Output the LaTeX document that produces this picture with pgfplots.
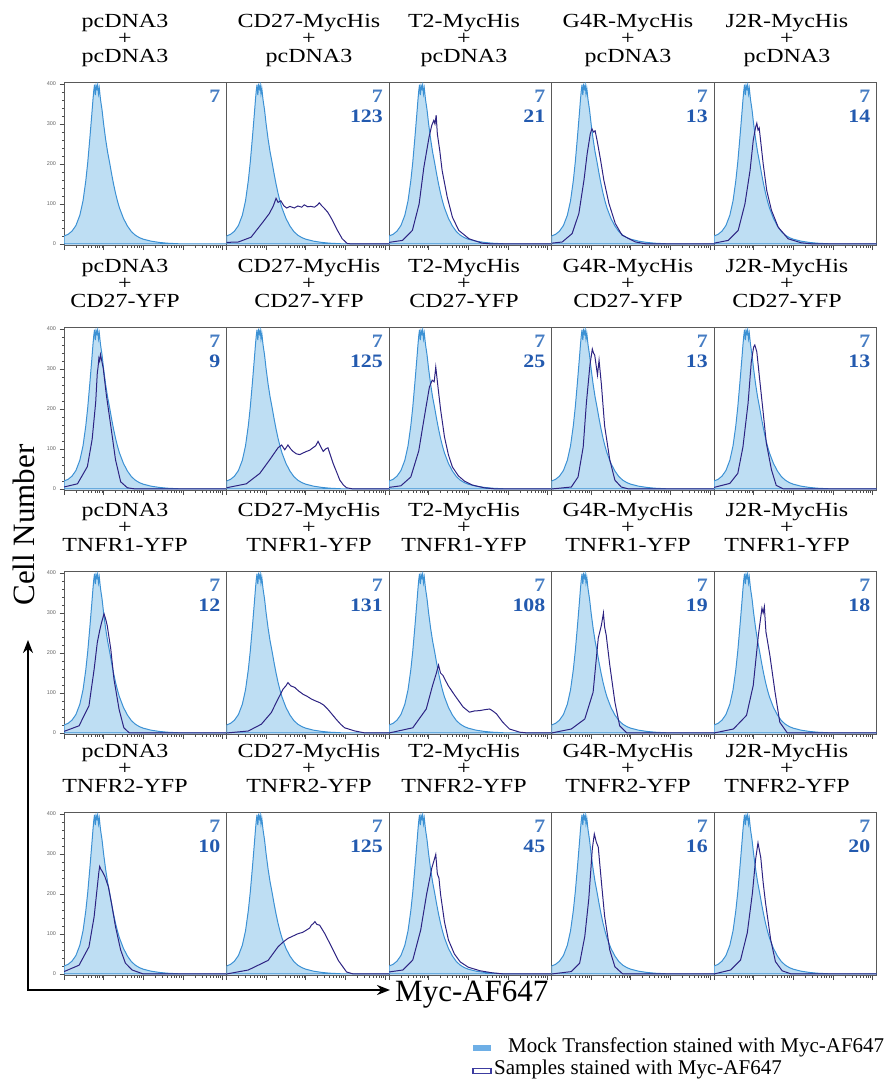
\documentclass[border=0pt]{standalone}
\usepackage{pgfplots}
\pgfplotsset{compat=1.18}
\usepackage{pgfplotstable}
\usepackage{fontspec}
\setmainfont{Liberation Serif}
\newfontfamily\titlefont[FakeStretch=1.2]{Liberation Serif}
\newfontfamily\mfifont[FakeStretch=1.15]{Liberation Serif}
\newfontfamily\tickfont{Liberation Sans}
\usetikzlibrary{arrows.meta}

\definecolor{mockfill}{RGB}{190,222,243}
\definecolor{mockline}{RGB}{60,145,212}
\definecolor{sampleline}{RGB}{45,35,130}
\definecolor{mfiA}{RGB}{70,125,195}
\definecolor{mfiB}{RGB}{35,90,175}
\definecolor{legA}{RGB}{110,175,230}
\definecolor{legB}{RGB}{60,60,160}

% mock control (same in every panel); x = log10 fluorescence
\pgfplotstableread{
x y
0.00 20
0.10 24
0.20 32
0.30 46
0.40 72
0.48 108
0.55 158
0.60 205
0.65 262
0.70 322
0.73 360
0.75 382
0.77 398
0.79 372
0.81 396
0.83 388
0.85 398
0.87 376
0.89 390
0.92 362
0.96 335
1.00 300
1.05 262
1.10 230
1.15 204
1.20 176
1.25 150
1.30 127
1.35 107
1.40 90
1.50 64
1.60 45
1.70 31
1.80 22
1.90 16
2.00 12
2.20 7
2.40 4
2.60 2
2.80 1
3.00 0
4.10 0
}\mock

\pgfplotstableread{
x y
0.00 4
0.30 5
0.62 17
0.92 55
1.08 76
1.18 95
1.25 114
1.30 104
1.37 108
1.45 95
1.52 90
1.60 94
1.71 90
1.80 95
1.90 92
1.96 98
2.05 93
2.13 94
2.22 92
2.30 98
2.34 103
2.40 96
2.46 90
2.55 80
2.63 67
2.72 50
2.80 34
2.92 13
3.05 1
3.20 0
4.10 0
}\sAB
\pgfplotstableread{
x y
0.00 4
0.34 9
0.59 34
0.76 100
0.88 192
1.01 267
1.08 297
1.13 309
1.16 300
1.19 322
1.22 275
1.28 234
1.34 184
1.47 117
1.60 67
1.76 34
2.02 13
2.35 2
2.60 0
4.10 0
}\sAC
\pgfplotstableread{
x y
0.00 2
0.27 5
0.52 26
0.69 76
0.82 160
0.90 226
0.98 276
1.02 288
1.06 280
1.10 283
1.15 259
1.24 209
1.32 160
1.45 101
1.61 51
1.78 22
2.12 5
2.40 0
4.10 0
}\sAD
\pgfplotstableread{
x y
0.00 2
0.36 9
0.61 34
0.78 100
0.91 184
0.99 259
1.05 292
1.08 302
1.11 285
1.14 290
1.18 255
1.24 201
1.33 134
1.45 84
1.62 42
1.87 13
2.20 3
2.50 0
4.10 0
}\sAE

\pgfplotstableread{
x y
0.00 5
0.34 13
0.59 56
0.71 124
0.80 217
0.84 290
0.86 305
0.88 327
0.90 320
0.92 336
0.99 302
1.07 234
1.18 158
1.30 73
1.43 18
1.60 3
1.80 0
4.10 0
}\sBA
\pgfplotstableread{
x y
0.00 3
0.50 13
0.84 39
1.09 73
1.30 103
1.39 110
1.47 98
1.55 110
1.62 100
1.68 94
1.76 88
1.85 86
1.93 90
2.02 94
2.10 97
2.18 103
2.25 108
2.31 119
2.38 105
2.44 94
2.50 100
2.56 103
2.62 85
2.69 64
2.78 42
2.86 22
2.95 10
3.03 3
3.20 0
4.10 0
}\sBB
\pgfplotstableread{
x y
0.00 4
0.30 8
0.55 30
0.75 95
0.90 185
1.02 255
1.09 272
1.14 268
1.18 305
1.23 260
1.30 200
1.40 130
1.50 85
1.60 55
1.75 33
1.90 20
2.10 10
2.40 3
2.70 0
4.10 0
}\sBC
\pgfplotstableread{
x y
0.00 0
0.50 5
0.67 30
0.80 105
0.88 215
0.97 310
1.03 350
1.06 340
1.09 335
1.16 285
1.20 322
1.26 260
1.34 158
1.47 73
1.60 22
1.76 5
1.95 0
4.10 0
}\sBD
\pgfplotstableread{
x y
0.00 4
0.40 14
0.60 39
0.73 105
0.86 215
0.94 317
1.00 355
1.03 360
1.08 343
1.15 276
1.24 192
1.32 115
1.45 48
1.57 9
1.75 0
4.10 0
}\sBE

\pgfplotstableread{
x y
0.00 4
0.38 18
0.63 68
0.76 159
0.84 226
0.90 256
0.95 277
1.01 298
1.05 285
1.09 269
1.18 210
1.26 135
1.39 59
1.51 13
1.65 0
4.10 0
}\sCA
\pgfplotstableread{
x y
0.00 0
0.55 5
0.88 22
1.13 51
1.30 85
1.43 110
1.50 118
1.55 126
1.62 118
1.72 114
1.82 105
1.93 97
2.03 92
2.14 85
2.25 80
2.35 76
2.45 70
2.56 59
2.67 46
2.77 34
2.88 22
2.98 13
3.24 5
3.50 0
4.10 0
}\sCB
\pgfplotstableread{
x y
0.00 0
0.60 13
0.94 60
1.10 119
1.19 148
1.25 170
1.30 150
1.36 144
1.49 119
1.66 94
1.87 65
2.03 52
2.15 55
2.29 56
2.40 58
2.54 60
2.62 55
2.71 48
2.87 27
3.04 10
3.30 2
3.50 0
4.10 0
}\sCC
\pgfplotstableread{
x y
0.00 0
0.50 10
0.84 35
1.05 102
1.18 237
1.26 270
1.31 300
1.34 265
1.38 245
1.47 170
1.60 77
1.72 18
1.90 0
4.10 0
}\sCD
\pgfplotstableread{
x y
0.00 0
0.49 10
0.82 44
0.99 119
1.12 245
1.18 290
1.21 312
1.24 300
1.27 316
1.31 253
1.41 194
1.54 102
1.66 27
1.85 0
4.10 0
}\sCE

\pgfplotstableread{
x y
0.00 6
0.38 22
0.63 68
0.76 143
0.84 218
0.88 255
0.90 269
0.93 262
0.97 256
1.03 244
1.12 218
1.20 176
1.30 118
1.43 60
1.55 27
1.72 10
2.00 0
4.10 0
}\sDA
\pgfplotstableread{
x y
0.00 0
0.55 10
1.05 34
1.30 68
1.43 80
1.55 89
1.68 95
1.81 101
1.92 104
2.02 110
2.10 115
2.14 122
2.19 126
2.23 131
2.28 124
2.35 122
2.48 101
2.65 68
2.82 34
3.03 5
3.20 0
4.10 0
}\sDB
\pgfplotstableread{
x y
0.00 5
0.35 10
0.60 35
0.80 110
0.95 200
1.08 265
1.14 285
1.18 299
1.22 250
1.26 240
1.30 200
1.40 130
1.50 85
1.65 50
1.80 30
2.00 17
2.30 8
2.60 3
2.90 0
4.10 0
}\sDC
\pgfplotstableread{
x y
0.00 0
0.50 6
0.71 27
0.84 94
0.94 187
1.03 313
1.08 350
1.13 330
1.18 317
1.26 229
1.34 145
1.47 60
1.60 18
1.80 0
4.10 0
}\sDD
\pgfplotstableread{
x y
0.00 0
0.42 10
0.67 35
0.84 103
0.97 203
1.05 287
1.11 328
1.18 291
1.24 229
1.30 178
1.43 86
1.55 31
1.72 8
1.95 0
4.10 0
}\sDE

\pgfplotsset{
  panel/.style={
    scale only axis, width=162.5pt, height=163.2pt, anchor=south west,
    xmin=0, xmax=4.1, ymin=-4, ymax=404,
    axis line style={black!65, line width=0.8pt},
    xtick={0,1,2,3,4}, xticklabels={},
    minor xtick={0.301,0.477,0.602,0.699,0.778,0.845,0.903,0.954,
                 1.301,1.477,1.602,1.699,1.778,1.845,1.903,1.954,
                 2.301,2.477,2.602,2.699,2.778,2.845,2.903,2.954,
                 3.301,3.477,3.602,3.699,3.778,3.845,3.903,3.954},
    ytick=\empty,
    tick pos=left, tick align=outside,
    major tick length=4.5pt, minor tick length=2.2pt,
    every tick/.style={black!70, line width=0.6pt},
    no markers,
  },
  firstcol/.style={
    ytick={0,100,200,300,400}, minor y tick num=4,
    yticklabel style={font=\tickfont\fontsize{5.5}{5.5}\selectfont, text=black!60},
    /pgf/number format/assume math mode=true,
  },
}

\newcommand{\panel}[4]{%
  \begin{axis}[panel, at={(#1pt,#2pt)}, #4]
    \addplot[draw=mockline, line width=1.0pt, fill=mockfill] table {\mock} \closedcycle;
    \addplot[draw=sampleline, line width=1.0pt] table {#3};
  \end{axis}}

\begin{document}
\begin{tikzpicture}
\useasboundingbox (0pt,0pt) rectangle (889pt,1085pt);

% row 1
\begin{axis}[panel, at={(64pt,839.4pt)}, firstcol]
  \addplot[draw=mockline, line width=1.0pt, fill=mockfill] table {\mock} \closedcycle;
\end{axis}
\panel{226.5}{839.4}{\sAB}{}
\panel{389}{839.4}{\sAC}{}
\panel{551.5}{839.4}{\sAD}{}
\panel{714}{839.4}{\sAE}{}
% row 2
\panel{64}{594.4}{\sBA}{firstcol}
\panel{226.5}{594.4}{\sBB}{}
\panel{389}{594.4}{\sBC}{}
\panel{551.5}{594.4}{\sBD}{}
\panel{714}{594.4}{\sBE}{}
% row 3
\panel{64}{350.4}{\sCA}{firstcol}
\panel{226.5}{350.4}{\sCB}{}
\panel{389}{350.4}{\sCC}{}
\panel{551.5}{350.4}{\sCD}{}
\panel{714}{350.4}{\sCE}{}
% row 4
\panel{64}{109.4}{\sDA}{firstcol}
\panel{226.5}{109.4}{\sDB}{}
\panel{389}{109.4}{\sDC}{}
\panel{551.5}{109.4}{\sDD}{}
\panel{714}{109.4}{\sDE}{}

\begin{scope}[x=1pt,y=1pt]
% titles
\tikzset{ttl/.style={inner sep=0pt, font=\titlefont\fontsize{20}{20}\selectfont}}
\foreach \ty/\second in {1002.6/pcDNA3, 757.6/CD27-YFP, 513.6/TNFR1-YFP, 272.6/TNFR2-YFP}{
  \foreach \cx/\first in {125/pcDNA3, 309/CD27-MycHis, 464/T2-MycHis, 628/G4R-MycHis, 787/J2R-MycHis}{
    \node[ttl, anchor=base] at (\cx, \ty+54.5) {\first};
    \node[ttl, anchor=center] at (\cx, \ty+43.5) {+};
    \node[ttl, anchor=base] at (\cx, \ty+19.5) {\second};
  }
}

% MFI values
\tikzset{mfiA/.style={inner sep=0pt, anchor=base east, text=mfiA, font=\mfifont\bfseries\fontsize{19}{19}\selectfont},
         mfiB/.style={inner sep=0pt, anchor=base east, text=mfiB, font=\mfifont\bfseries\fontsize{19}{19}\selectfont}}
\foreach \ty in {1002.6, 757.6, 513.6, 272.6}{
  \foreach \rx in {226.5, 389, 551.5, 714, 876.5}{
    \node[mfiA] at (\rx-6, \ty-20.6) {7};
  }
}
\foreach \rx/\ty/\v in {
  389/1002.6/123, 551.5/1002.6/21, 714/1002.6/13, 876.5/1002.6/14,
  226.5/757.6/9, 389/757.6/125, 551.5/757.6/25, 714/757.6/13, 876.5/757.6/13,
  226.5/513.6/12, 389/513.6/131, 551.5/513.6/108, 714/513.6/19, 876.5/513.6/18,
  226.5/272.6/10, 389/272.6/125, 551.5/272.6/45, 714/272.6/16, 876.5/272.6/20}{
  \node[mfiB] at (\rx-6, \ty-40.6) {\v};
}

% axis arrows and labels
\draw[line width=2.4pt, {Stealth[length=13pt,width=10pt]}-{Stealth[length=13pt,width=10pt]}]
  (28,445) -- (28,95) -- (390,95);
\node[inner sep=0pt, anchor=base west, font=\fontsize{31}{31}\selectfont] at (395,83) {Myc-AF647};
\node[inner sep=0pt, anchor=base, rotate=90, font=\fontsize{31}{31}\selectfont] at (35,560) {Cell Number};

% legend
\fill[legA] (473,34) rectangle (491,39.5);
\node[inner sep=0pt, anchor=base west, font=\fontsize{21}{21}\selectfont] at (508,32) {Mock Transfection stained with Myc-AF647};
\draw[legB, line width=1.1pt, fill=white] (473,11.5) rectangle (491,16.5);
\node[inner sep=0pt, anchor=base west, font=\fontsize{21}{21}\selectfont] at (494,10) {Samples stained with Myc-AF647};
\end{scope}
\end{tikzpicture}
\end{document}
